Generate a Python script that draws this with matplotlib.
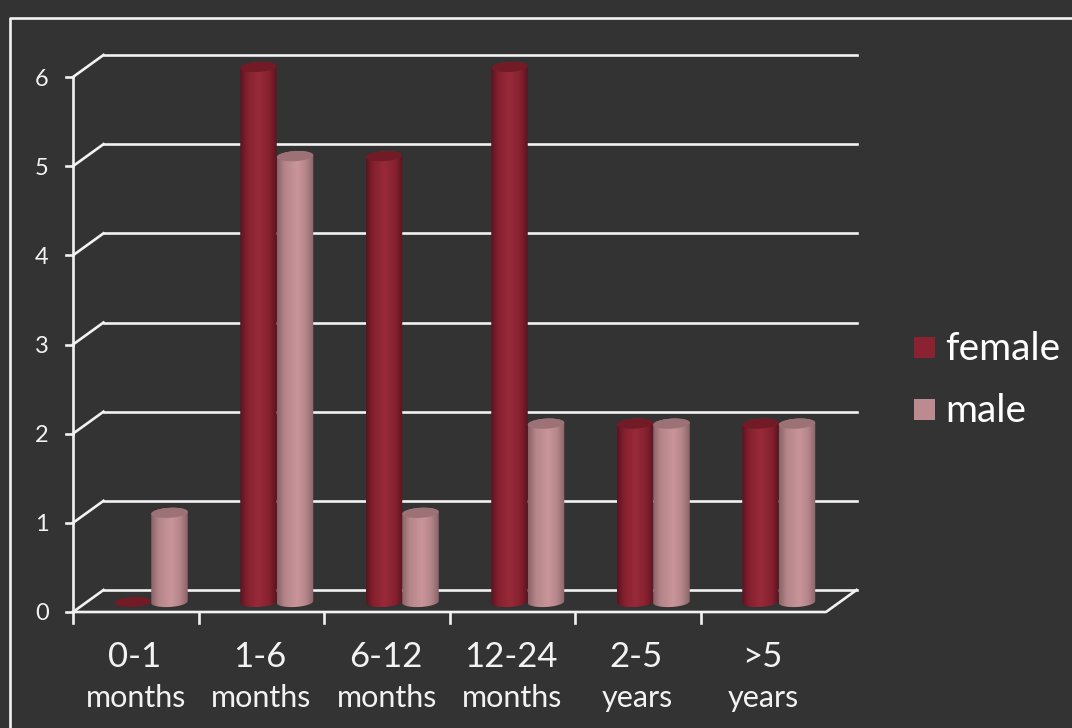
import numpy as np
import matplotlib
matplotlib.use('Agg')
from matplotlib import pyplot as plt
from matplotlib.colors import LinearSegmentedColormap
from matplotlib.patches import Polygon, Rectangle

categories = ['0-1\nmonths', '1-6\nmonths', '6-12\nmonths', '12-24\nmonths', '2-5\nyears', '>5\nyears']
female = [0, 6, 5, 6, 2, 2]
male = [1, 5, 1, 2, 2, 2]
y_ticks = [0, 1, 2, 3, 4, 5, 6]

W, H = 1072, 728
BG = '#333333'
plt.rcParams['font.family'] = ['Lato', 'DejaVu Sans']

fig = plt.figure(figsize=(W / 100, H / 100), dpi=100, facecolor=BG)

# front plane of the 3d box, in pixels: x 73-826, y 77-612
left, right, top, bottom = 73, 826, 77, 612
ax = fig.add_axes([left / W, 1 - bottom / H, (right - left) / W, (bottom - top) / H])
ax.set_xlim(0, 6)
ax.set_ylim(0, 6)
ax.axis('off')

# pixels to data units
ux = (right - left) / 6
uy = (bottom - top) / 6
depth_x = 30.5 / ux
depth_y = 22 / uy
line = dict(color='#f2f2f2', lw=1.9, clip_on=False, solid_capstyle='projecting')

# back wall, side wall and floor
for v in y_ticks:
    ax.plot([depth_x, 6 + depth_x], [v + depth_y, v + depth_y], zorder=1, **line)
    ax.plot([0, depth_x], [v, v + depth_y], zorder=1, **line)
    ax.plot([-7 / ux, 0], [v, v], zorder=1, **line)
    ax.text(-31 / ux, v - 2 / uy, str(v), color='#f2f2f2', fontsize=17, ha='center', va='center')
ax.plot([0, 6, 6 + depth_x], [0, 0, depth_y], zorder=1, **line)
ax.plot([0, 0], [0, 6], zorder=1, **line)

for i, lab in enumerate(categories):
    first, second = lab.split('\n')
    ax.plot([i, i], [0, -11 / uy], zorder=1, **line)
    ax.text(i + 0.49, -55 / uy, first, color='#f2f2f2', fontsize=25, ha='center', va='baseline')
    ax.text(i + 0.5, -95 / uy, second, color='#f2f2f2', fontsize=22, ha='center', va='baseline')

red = LinearSegmentedColormap.from_list('r', [(0, '#5a1520'), (0.2, '#86212f'), (0.5, '#982a3a'), (0.8, '#86212f'), (1, '#5a1520')])
pink = LinearSegmentedColormap.from_list('p', [(0, '#8a6468'), (0.2, '#b4858a'), (0.55, '#c9959a'), (0.8, '#b4858a'), (1, '#8a6468')])
top_red = '#721b27'
top_pink = '#9c7276'


def cylinder(x0, x1, v, cmap, cap):
    # x0, x1 in data units, v = bar value
    t = np.linspace(0, np.pi, 40)
    xc = (x0 + x1) / 2
    rx = (x1 - x0) / 2
    ry = 5 / uy
    tilt = 1 / uy
    base = 10 / uy
    xs = xc - rx * np.cos(t)
    low = base - ry * np.sin(t) - tilt * np.cos(t)
    if v > 0:
        upper = v + base + ry * np.sin(t) - tilt * np.cos(t)
        outline = np.column_stack([np.r_[xs, xs[::-1]], np.r_[low, upper[::-1]]])
        img = ax.imshow(np.linspace(0, 1, 64)[None, :], cmap=cmap, aspect='auto', zorder=3,
                        extent=[x0, x1, base - 2 * ry, v + base + 2 * ry])
        img.set_clip_box(fig.bbox)
        img.set_clip_path(Polygon(outline, transform=ax.transData))
    a = np.linspace(0, 2 * np.pi, 80)
    lid = np.column_stack([xc - rx * np.cos(a), v + base + ry * np.sin(a) - tilt * np.cos(a)])
    ax.add_patch(Polygon(lid, closed=True, fc=cap, ec='none', zorder=4, clip_on=False))


bar_w = 36.5 / ux
for i in range(len(categories)):
    c = i + 0.5 + 15.5 / ux
    cylinder(c - bar_w, c, female[i], red, top_red)
    cylinder(c, c + bar_w, male[i], pink, top_pink)
ax.set_xlim(0, 6)
ax.set_ylim(0, 6)

# legend
for y0, col, name in [(347.5, '#8b2231', 'female'), (409.5, '#bc8b90', 'male')]:
    fig.patches.append(Rectangle((914 / W, 1 - (y0 + 10.5) / H), 21 / W, 21 / H, transform=fig.transFigure, fc=col, ec='none'))
    fig.text(945 / W, 1 - (y0 + 12.5) / H, name, color='white', fontsize=28, ha='left', va='baseline')

# outer frame
fig.add_artist(plt.Line2D([10 / W, 10 / W, 1], [0, 1 - 17.5 / H, 1 - 17.5 / H], color='#f2f2f2', lw=1.9))

fig.savefig('out.png', dpi=100, facecolor=BG)
